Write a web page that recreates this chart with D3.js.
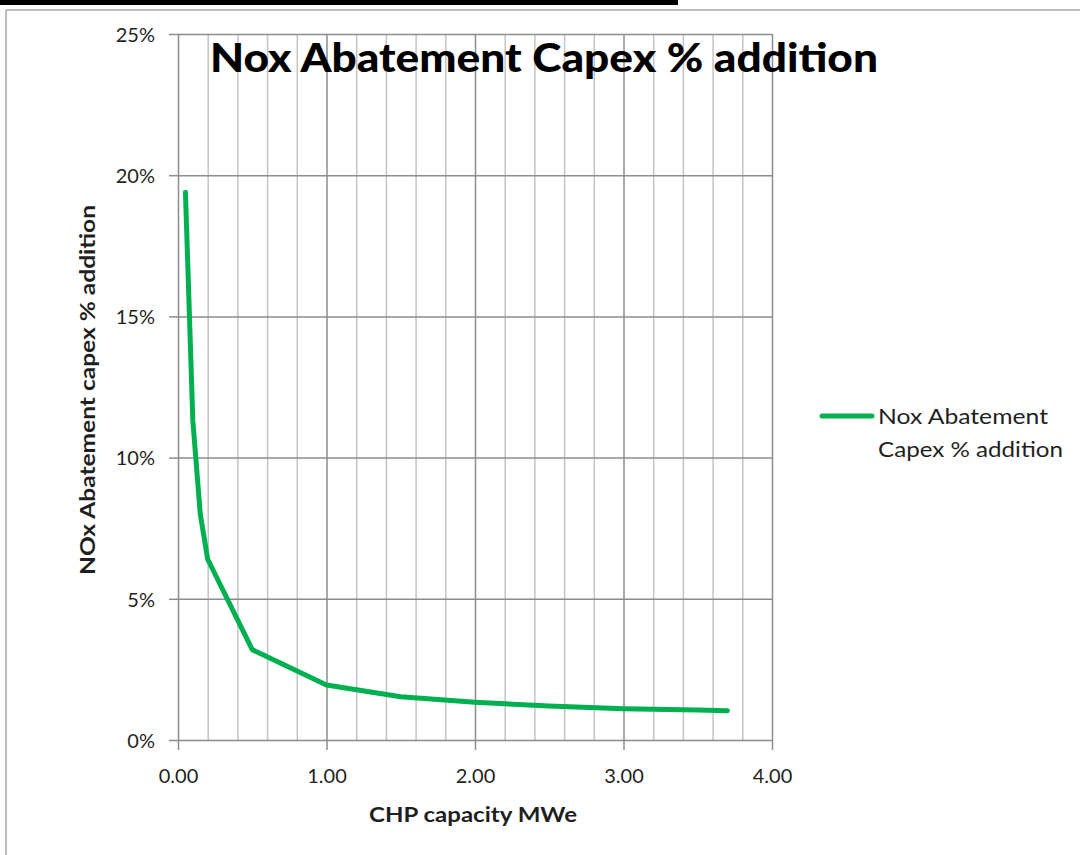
<!DOCTYPE html>
<html>
<head>
<meta charset="utf-8">
<script src="https://cdn.jsdelivr.net/npm/d3@7"></script>
<style>
  html, body { margin: 0; padding: 0; background: #ffffff; }
  svg { display: block; }
</style>
</head>
<body>
<script>
// chart data
var capacity = [0.05, 0.1, 0.15, 0.2, 0.5, 1.0, 1.5, 2.0, 2.5, 3.0, 3.5, 3.7]; // CHP capacity MWe
var addition = [0.194, 0.113, 0.080, 0.064, 0.032, 0.0195, 0.0153, 0.0134, 0.0120, 0.0111, 0.0106, 0.0104]; // capex addition
var xMajorTicks = [0, 1, 2, 3, 4];
var xMinorTicks = [0.2, 0.4, 0.6, 0.8, 1.2, 1.4, 1.6, 1.8, 2.2, 2.4, 2.6, 2.8, 3.2, 3.4, 3.6, 3.8];
var yTicks = [0, 0.05, 0.10, 0.15, 0.20, 0.25];
var chartTitle = "Nox Abatement Capex % addition";
var xTitle = "CHP capacity  MWe";
var yTitle = "NOx Abatement capex  % addition";
var legendLines = ["Nox Abatement", "Capex % addition"];

var width = 1080, height = 855;
var plot = { left: 178, right: 772, top: 34, bottom: 740 };
var font = "Lato, 'Open Sans', sans-serif";
var green = "#00b050";
var textColor = "#1f1f1f";

var svg = d3.select("body").append("svg")
    .attr("width", width)
    .attr("height", height)
    .attr("xmlns", "http://www.w3.org/2000/svg");

// page frame
svg.append("rect").attr("x", 0).attr("y", 0).attr("width", width).attr("height", height).attr("fill", "#ffffff");
svg.append("rect").attr("x", 0).attr("y", 0).attr("width", 678).attr("height", 5).attr("fill", "#000000");
svg.append("line").attr("x1", 6).attr("x2", width).attr("y1", 10).attr("y2", 10)
    .style("stroke", "#a6a6a6").style("stroke-width", 1.5);
svg.append("line").attr("x1", 6).attr("x2", 6).attr("y1", 10).attr("y2", height)
    .style("stroke", "#a6a6a6").style("stroke-width", 1.5);

// scales
var x = d3.scaleLinear().domain([0, 4]).range([plot.left, plot.right]);
var y = d3.scaleLinear().domain([0, 0.25]).range([plot.bottom, plot.top]);

// minor vertical gridlines
svg.append("g")
    .attr("transform", "translate(0," + plot.bottom + ")")
    .call(d3.axisBottom(x).tickValues(xMinorTicks).tickSize(-(plot.bottom - plot.top)).tickFormat(""))
    .call(function (g) { g.select(".domain").remove(); })
    .call(function (g) { g.selectAll("line").style("stroke", "#c4c4c4").style("stroke-width", 1.5); });

// horizontal gridlines + y axis
var yAxis = svg.append("g")
    .attr("transform", "translate(" + plot.left + ",0)")
    .call(d3.axisLeft(y).tickValues(yTicks).tickSize(9).tickPadding(14).tickFormat(d3.format(".0%")));
yAxis.select(".domain").remove();
yAxis.selectAll("line").style("stroke", "#8c8c8c").style("stroke-width", 1.5);
yAxis.selectAll(".tick").append("line")
    .attr("x1", 0).attr("x2", plot.right - plot.left)
    .style("stroke", "#8c8c8c").style("stroke-width", 1.5);
yAxis.selectAll("text")
    .attr("dy", "0.36em")
    .style("font-family", font).style("font-size", "20px").style("fill", textColor);

// major vertical gridlines + x axis
var xAxis = svg.append("g")
    .attr("transform", "translate(0," + plot.bottom + ")")
    .call(d3.axisBottom(x).tickValues(xMajorTicks).tickSize(10).tickPadding(16).tickFormat(d3.format(".2f")));
xAxis.select(".domain").remove();
xAxis.selectAll("line").style("stroke", "#8c8c8c").style("stroke-width", 1.5);
xAxis.selectAll(".tick").append("line")
    .attr("y1", 0).attr("y2", -(plot.bottom - plot.top))
    .style("stroke", "#8c8c8c").style("stroke-width", 1.5);
xAxis.selectAll("text")
    .attr("dy", "0.85em")
    .style("font-family", font).style("font-size", "20px").style("fill", textColor);

// series line
var data = capacity.map(function (c, i) { return { x: c, y: addition[i] }; });
svg.append("path")
    .datum(data)
    .attr("d", d3.line().x(function (d) { return x(d.x); }).y(function (d) { return y(d.y); }))
    .style("fill", "none")
    .style("stroke", green)
    .style("stroke-width", 5)
    .style("stroke-linecap", "round")
    .style("stroke-linejoin", "round");

// chart title
svg.append("text")
    .attr("x", 210).attr("y", 72)
    .attr("textLength", 668).attr("lengthAdjust", "spacingAndGlyphs")
    .style("font-family", font).style("font-weight", "900").style("font-size", "40px").style("fill", "#000000")
    .text(chartTitle);

// axis titles
svg.append("text")
    .attr("x", 369).attr("y", 822)
    .attr("textLength", 208).attr("lengthAdjust", "spacingAndGlyphs")
    .style("font-family", font).style("font-weight", "bold").style("font-size", "20px").style("fill", textColor)
    .text(xTitle);
svg.append("text")
    .attr("transform", "translate(95,575) rotate(-90)")
    .attr("textLength", 370).attr("lengthAdjust", "spacingAndGlyphs")
    .style("font-family", font).style("font-weight", "bold").style("font-size", "20px").style("fill", textColor)
    .text(yTitle);

// legend
svg.append("line")
    .attr("x1", 822).attr("x2", 872).attr("y1", 416).attr("y2", 416)
    .style("stroke", green).style("stroke-width", 5).style("stroke-linecap", "round");
var legendWidths = [170, 185];
svg.selectAll(null)
    .data(legendLines)
    .enter()
    .append("text")
    .attr("x", 878)
    .attr("y", function (d, i) { return 424 + i * 33; })
    .attr("textLength", function (d, i) { return legendWidths[i]; })
    .attr("lengthAdjust", "spacingAndGlyphs")
    .style("font-family", font).style("font-size", "21px").style("fill", textColor)
    .text(function (d) { return d; });
</script>
</body>
</html>
